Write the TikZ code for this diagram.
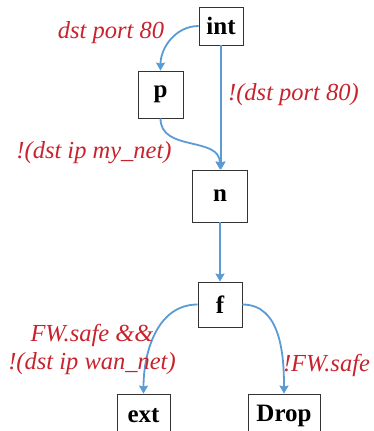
\documentclass[tikz,border=0pt]{standalone}
\usepackage{fontspec}
\setmainfont{Liberation Serif}
\usetikzlibrary{arrows.meta}
\definecolor{flowblue}{RGB}{91,155,213}
\definecolor{condred}{RGB}{200,35,45}
\tikzset{
  box/.style={draw=black!80, line width=0.8pt, fill=white, inner sep=0pt,
    font=\fontsize{25}{28}\selectfont\bfseries},
  flow/.style={draw=flowblue, line width=1.8pt,
    -{Stealth[length=8pt,width=9pt,inset=1pt]}},
  cond/.style={text=condred, inner sep=0pt,
    font=\fontsize{24.5}{28}\selectfont\itshape}
}
\begin{document}
\begin{tikzpicture}[x=1pt,y=-1pt]
  \useasboundingbox (0,0) rectangle (374,431);

  % processing stages
  \node[box, minimum width=44pt, minimum height=38pt] (int) at (221,26) {int};
  \node[box, minimum width=45pt, minimum height=47pt] (p) at (160.5,94.5) {p};
  \node[box, minimum width=55pt, minimum height=52pt] (n) at (220,196) {n};
  \node[box, minimum width=44pt, minimum height=45pt] (f) at (220,304.5) {f};
  \node[box, minimum width=53pt, minimum height=44pt] (ext) at (143.5,416) {ext};
  \node[box, minimum width=72pt, minimum height=44pt] (drop) at (284,416) {Drop};

  % transitions
  \draw[flow] (int.west) to[out=180,in=90] (p.north);
  \draw[flow] (int.south) -- (int.south |- n.north);
  \draw[flow] (p.south) to[out=-90,in=90,looseness=1.1] (n.north);
  \draw[flow] (n.south) -- (f.north);
  \draw[flow] (f.west) to[out=180,in=90] (ext.north);
  \draw[flow] (f.east) to[out=0,in=90] (drop.north);

  % guard conditions
  \node[cond] (c1) at (111,33) {dst port 80};
  \node[cond] (c2) at (293.5,95) {!(dst port 80)};
  \node[cond] (c3) at (94,153) {!(dst ip my\_net)};
  \node[cond, align=center] (c4) at (92,349) {FW.safe \&\&\\!(dst ip wan\_net)};
  \node[cond] (c5) at (326.5,365) {!FW.safe};
\end{tikzpicture}
\end{document}
